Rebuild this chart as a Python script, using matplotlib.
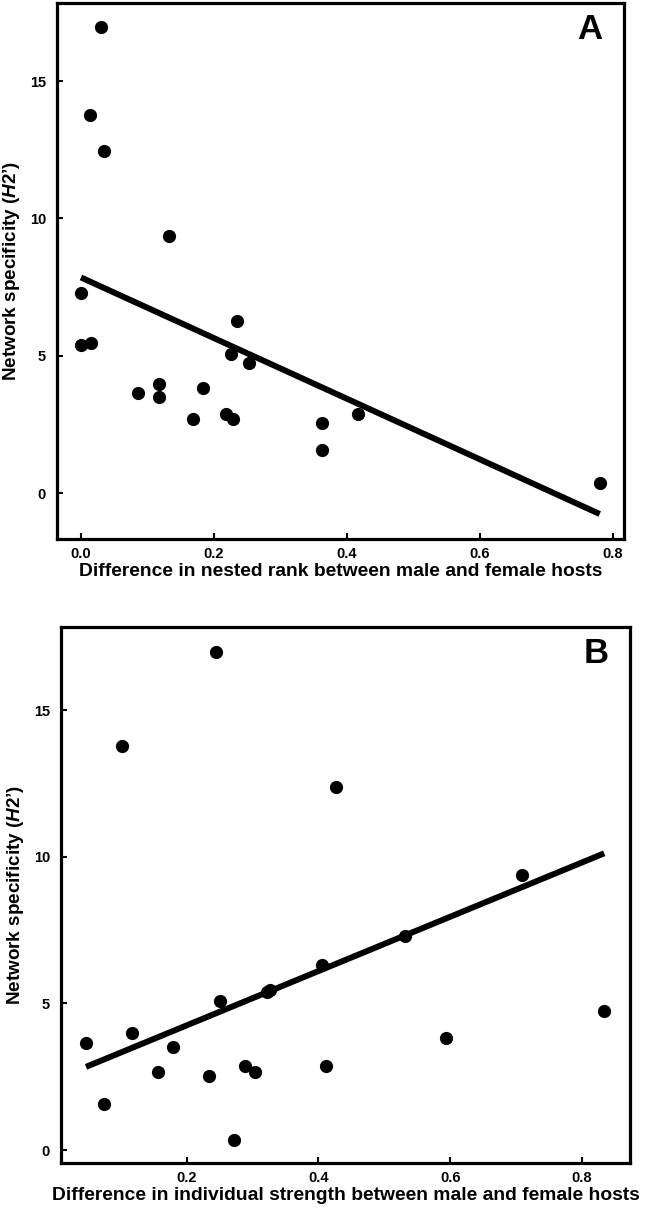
import numpy as np
import matplotlib.pyplot as plt

plt.rcParams['font.family'] = ['Liberation Sans', 'DejaVu Sans']
plt.rcParams['font.weight'] = 'bold'
plt.rcParams['mathtext.fontset'] = 'custom'
plt.rcParams['mathtext.rm'] = 'Liberation Sans:bold'
plt.rcParams['mathtext.bf'] = 'Liberation Sans:bold'
plt.rcParams['mathtext.it'] = 'Liberation Sans:italic:bold'

# Panel A: difference in nested rank vs network specificity
rank_diff = [0.030, 0.014, 0.034, 0.133, 0.000, 0.000, 0.0155, 0.234, 0.225, 0.252,
             0.086, 0.118, 0.118, 0.184, 0.169, 0.218, 0.229, 0.362, 0.362, 0.417, 0.780]
h2_a = [16.95, 13.76, 12.47, 9.36, 7.29, 5.39, 5.45, 6.27, 5.08, 4.72,
        3.65, 3.96, 3.48, 3.81, 2.68, 2.88, 2.68, 2.54, 1.57, 2.88, 0.35]
fit_a = (7.85, -11.04)      # intercept, slope
fit_a_range = [0.0, 0.78]

# Panel B: difference in individual strength vs network specificity
strength_diff = [0.244, 0.101, 0.427, 0.709, 0.531, 0.405, 0.322, 0.326, 0.250, 0.834,
                 0.047, 0.117, 0.179, 0.156, 0.233, 0.288, 0.303, 0.412, 0.594, 0.074, 0.271]
h2_b = [16.97, 13.78, 12.37, 9.38, 7.30, 6.31, 5.39, 5.47, 5.09, 4.74,
        3.64, 3.98, 3.50, 2.67, 2.53, 2.87, 2.67, 2.87, 3.81, 1.57, 0.34]
fit_b = (2.405, 9.25)
fit_b_range = [0.047, 0.834]

ylabel = "Network specificity ($\\mathit{H2\u2019}$)"


def draw_panel(ax, x, y, fit, xr, xlabel, letter, xlim, ylim, xticks, xticklabels):
    ax.scatter(x, y, s=72, color='black', zorder=3)
    xs = np.array(xr)
    ax.plot(xs, fit[0] + fit[1] * xs, color='black', lw=4.3, solid_capstyle='butt')
    ax.set_xlim(*xlim)
    ax.set_ylim(*ylim)
    ax.set_xticks(xticks)
    ax.set_xticklabels(xticklabels)
    ax.set_yticks([0, 5, 10, 15])
    ax.tick_params(direction='in', length=4, width=1.5, labelsize=10.5)
    ax.tick_params(axis='y', pad=8)
    ax.tick_params(axis='x', pad=6)
    for s in ax.spines.values():
        s.set_linewidth(2.3)
    ax.set_xlabel(xlabel, fontsize=13.9, fontweight='bold', labelpad=1)
    ax.set_ylabel(ylabel, fontsize=13.6, fontweight='bold')
    ax.yaxis.set_label_coords(-0.062, 0.5)
    ax.text(0.94, 0.95, letter, transform=ax.transAxes, fontsize=25,
            fontweight='bold', ha='center', va='center')


fig = plt.figure(figsize=(6.45, 12.09), dpi=100)
ax_a = fig.add_axes([0.0884, 0.5542, 0.879, 0.4433])
ax_b = fig.add_axes([0.0946, 0.0380, 0.882, 0.4433])

draw_panel(ax_a, rank_diff, h2_a, fit_a, fit_a_range,
           'Difference in nested rank between male and female hosts', 'A',
           (-0.036, 0.8165), (-1.67, 17.84),
           [0.0, 0.2, 0.4, 0.6, 0.8], ['0.0', '0.2', '0.4', '0.6', '0.8'])
draw_panel(ax_b, strength_diff, h2_b, fit_b, fit_b_range,
           'Difference in individual strength between male and female hosts', 'B',
           (0.009, 0.873), (-0.44, 17.83),
           [0.2, 0.4, 0.6, 0.8], ['0.2', '0.4', '0.6', '0.8'])

fig.savefig('out.png', dpi=100)
